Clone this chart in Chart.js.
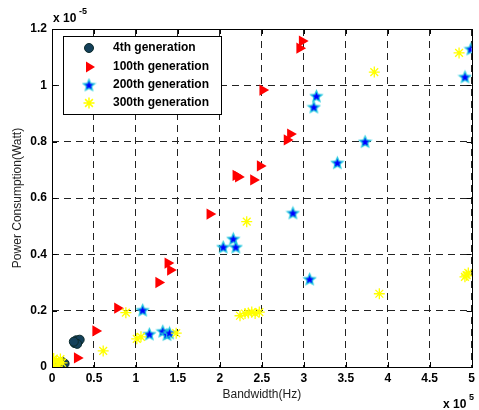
<!DOCTYPE html>
<html>
<head>
<meta charset="utf-8">
<script src="https://cdn.jsdelivr.net/npm/chart.js@4"></script>
<style>
    html, body { margin: 0; padding: 0; background: #fff; }
    #wrap { width: 479px; height: 410px; }
</style>
</head>
<body>
<div id="wrap"><canvas id="powerChart" width="479" height="410"></canvas></div>
<script>
/* ========================================
   Data (x in units of 1e5 Hz, y in units of 1e-5 W)
   ======================================== */

const seriesNames = ['4th generation', '100th generation', '200th generation', '300th generation'];

const gen4X = [0.27, 0.29, 0.31, 0.33, 0.30, 0.26, 0.12, 0.15, 0.02];
const gen4Y = [0.085, 0.095, 0.090, 0.097, 0.082, 0.090, 0.018, 0.012, 0.005];

const gen100X = [2.98, 2.95, 2.51, 2.84, 2.80, 2.48, 2.19, 2.22, 2.40, 1.88, 1.38, 1.41, 1.27, 0.78, 0.52, 0.30, 0.02];
const gen100Y = [1.157, 1.132, 0.983, 0.827, 0.806, 0.714, 0.680, 0.675, 0.664, 0.543, 0.369, 0.344, 0.300, 0.209, 0.128, 0.032, 0.003];

const gen200X = [4.99, 4.92, 3.15, 3.12, 3.73, 3.40, 2.87, 3.07, 2.16, 2.04, 2.19, 1.08, 1.16, 1.32, 1.37, 1.40, 0.00, 0.03];
const gen200Y = [1.129, 1.030, 0.962, 0.923, 0.800, 0.725, 0.547, 0.312, 0.455, 0.426, 0.426, 0.202, 0.117, 0.127, 0.115, 0.121, 0.015, 0.005];

const gen300X = [4.85, 3.84, 2.32, 4.96, 4.92, 4.94, 3.90, 2.24, 2.30, 2.34, 2.38, 2.42, 2.47, 0.88, 1.48, 1.01, 1.06, 0.61, 0.02, 0.05, 0.08, 0.12, 0.03, 0.10];
const gen300Y = [1.115, 1.047, 0.516, 0.334, 0.320, 0.326, 0.260, 0.182, 0.190, 0.192, 0.195, 0.190, 0.195, 0.193, 0.120, 0.100, 0.107, 0.057, 0.030, 0.020, 0.010, 0.015, 0.002, 0.028];

const xTickValues = [0, 0.5, 1, 1.5, 2, 2.5, 3, 3.5, 4, 4.5, 5];
const yTickValues = [0, 0.2, 0.4, 0.6, 0.8, 1, 1.2];

/* ========================================
   Helpers
   ======================================== */

function toPoints(xs, ys) {
    return xs.map(function (x, i) { return { x: x, y: ys[i] }; });
}

function tickLabel(v) {
    const r = Math.round(v * 10) / 10;
    return String(r);
}

// blue five-pointed star with cyan edge (MATLAB 'p' marker)
function makeStarImage(r) {
    const c = document.createElement('canvas');
    const s = Math.ceil(r * 2 + 3);
    c.width = s;
    c.height = s;
    const g = c.getContext('2d');
    g.beginPath();
    for (let i = 0; i < 10; i++) {
        const rr = i % 2 ? r * 0.45 : r;
        const a = -Math.PI / 2 + i * Math.PI / 5;
        g.lineTo(s / 2 + rr * Math.cos(a), s / 2 + 0.5 + rr * Math.sin(a));
    }
    g.closePath();
    g.fillStyle = '#0000ff';
    g.fill();
    g.lineWidth = 1.2;
    g.strokeStyle = '#1cc8dc';
    g.stroke();
    return c;
}

const starImg = makeStarImage(6);

const FONT = '"Liberation Sans", Arial, sans-serif';

/* ========================================
   Frame, inner ticks, legend, exponents
   ======================================== */

const decorPlugin = {
    id: 'decor',
    afterDraw: function (chart) {
        const ctx = chart.ctx;
        const a = chart.chartArea;
        const xs = chart.scales.x;
        const ys = chart.scales.y;
        ctx.save();

        // box
        ctx.strokeStyle = '#000';
        ctx.lineWidth = 1;
        ctx.strokeRect(Math.round(a.left) + 0.5, Math.round(a.top) + 0.5,
            Math.round(a.right - a.left), Math.round(a.bottom - a.top));

        // inward tick marks on all four sides
        ctx.beginPath();
        xTickValues.forEach(function (v) {
            const px = Math.round(xs.getPixelForValue(v)) + 0.5;
            ctx.moveTo(px, a.bottom); ctx.lineTo(px, a.bottom - 5);
            ctx.moveTo(px, a.top); ctx.lineTo(px, a.top + 5);
        });
        yTickValues.forEach(function (v) {
            const py = Math.round(ys.getPixelForValue(v)) + 0.5;
            ctx.moveTo(a.left, py); ctx.lineTo(a.left + 5, py);
            ctx.moveTo(a.right, py); ctx.lineTo(a.right - 5, py);
        });
        ctx.stroke();

        // exponent labels
        ctx.fillStyle = '#000';
        ctx.textBaseline = 'alphabetic';
        ctx.textAlign = 'left';
        ctx.font = 'bold 12px ' + FONT;
        ctx.fillText('x 10', 53, 22);
        ctx.font = 'bold 9px ' + FONT;
        ctx.fillText('-5', 79, 14);
        ctx.font = 'bold 12px ' + FONT;
        ctx.fillText('x 10', 443, 408);
        ctx.font = 'bold 9px ' + FONT;
        ctx.fillText('5', 469, 400);

        // legend
        const lx = 63, ly = 36, lw = 158, lh = 78;
        ctx.fillStyle = '#fff';
        ctx.fillRect(lx, ly, lw, lh);
        ctx.strokeStyle = '#000';
        ctx.strokeRect(lx + 0.5, ly + 0.5, lw, lh);

        const rowsY = [48, 67, 85, 103];
        const mx = 89;
        ctx.font = 'bold 12px ' + FONT;
        ctx.textBaseline = 'middle';
        rowsY.forEach(function (y, i) {
            ctx.fillStyle = '#000';
            ctx.fillText(seriesNames[i], 113, y);
        });

        // circle
        ctx.beginPath();
        ctx.arc(mx, rowsY[0], 4.5, 0, Math.PI * 2);
        ctx.fillStyle = '#14405a';
        ctx.fill();
        ctx.strokeStyle = '#0b2a2a';
        ctx.stroke();
        // triangle
        ctx.beginPath();
        ctx.moveTo(mx + 6, rowsY[1]);
        ctx.lineTo(mx - 3, rowsY[1] - 5.5);
        ctx.lineTo(mx - 3, rowsY[1] + 5.5);
        ctx.closePath();
        ctx.fillStyle = '#ff0000';
        ctx.fill();
        // star
        ctx.drawImage(starImg, mx - starImg.width / 2, rowsY[2] - starImg.height / 2);
        // asterisk
        ctx.strokeStyle = '#ffff00';
        ctx.lineWidth = 1.5;
        ctx.beginPath();
        const r = 5.5, d = r * Math.SQRT1_2;
        ctx.moveTo(mx - r, rowsY[3]); ctx.lineTo(mx + r, rowsY[3]);
        ctx.moveTo(mx, rowsY[3] - r); ctx.lineTo(mx, rowsY[3] + r);
        ctx.moveTo(mx - d, rowsY[3] - d); ctx.lineTo(mx + d, rowsY[3] + d);
        ctx.moveTo(mx - d, rowsY[3] + d); ctx.lineTo(mx + d, rowsY[3] - d);
        ctx.stroke();

        ctx.restore();
    }
};

/* ========================================
   Chart
   ======================================== */

function initPowerChart() {
    const canvas = document.getElementById('powerChart');
    const ctx = canvas.getContext('2d');

    const gridOpts = {
        color: '#222',
        lineWidth: 1,
        drawTicks: false
    };
    const borderOpts = { display: false, dash: [7, 5] };

    new Chart(ctx, {
        type: 'scatter',
        data: {
            datasets: [
                {
                    label: seriesNames[0],
                    data: toPoints(gen4X, gen4Y),
                    pointStyle: 'circle',
                    pointRadius: 4.5,
                    backgroundColor: '#14405a',
                    borderColor: '#0b2a2a',
                    borderWidth: 1,
                    order: 4
                },
                {
                    label: seriesNames[1],
                    data: toPoints(gen100X, gen100Y),
                    pointStyle: 'triangle',
                    pointRotation: 90,
                    pointRadius: 6.5,
                    backgroundColor: '#ff0000',
                    borderColor: '#ff0000',
                    borderWidth: 0,
                    order: 3
                },
                {
                    label: seriesNames[2],
                    data: toPoints(gen200X, gen200Y),
                    pointStyle: starImg,
                    pointRadius: 6,
                    order: 2
                },
                {
                    label: seriesNames[3],
                    data: toPoints(gen300X, gen300Y),
                    pointStyle: 'star',
                    pointRadius: 5.5,
                    borderColor: '#ffff00',
                    backgroundColor: '#ffff00',
                    borderWidth: 1.3,
                    order: 1
                }
            ]
        },
        options: {
            responsive: false,
            animation: false,
            layout: { padding: { top: 29, right: 6, left: 0, bottom: 0 } },
            plugins: {
                legend: { display: false },
                tooltip: { enabled: false }
            },
            scales: {
                x: {
                    type: 'linear',
                    min: 0,
                    max: 5,
                    afterFit: function (scale) { scale.height = 43; },
                    afterBuildTicks: function (scale) {
                        scale.ticks = xTickValues.map(function (v) { return { value: v }; });
                    },
                    grid: gridOpts,
                    border: borderOpts,
                    ticks: {
                        padding: 4,
                        color: '#000',
                        font: { family: FONT, size: 12, weight: 'bold' },
                        maxRotation: 0,
                        callback: tickLabel
                    },
                    title: {
                        display: true,
                        text: 'Bandwidth(Hz)',
                        color: '#222',
                        font: { family: FONT, size: 12 },
                        padding: { top: 0, bottom: 8 }
                    }
                },
                y: {
                    type: 'linear',
                    min: 0,
                    max: 1.2,
                    afterFit: function (scale) { scale.width = 52; },
                    afterBuildTicks: function (scale) {
                        scale.ticks = yTickValues.map(function (v) { return { value: v }; });
                    },
                    grid: gridOpts,
                    border: borderOpts,
                    ticks: {
                        padding: 5,
                        color: '#000',
                        font: { family: FONT, size: 12, weight: 'bold' },
                        callback: tickLabel
                    },
                    title: {
                        display: true,
                        text: 'Power Consumption(Watt)',
                        color: '#222',
                        font: { family: FONT, size: 12 },
                        padding: { top: 10, bottom: 0 }
                    }
                }
            }
        },
        plugins: [decorPlugin]
    });
}

document.addEventListener('DOMContentLoaded', initPowerChart);
</script>
</body>
</html>
